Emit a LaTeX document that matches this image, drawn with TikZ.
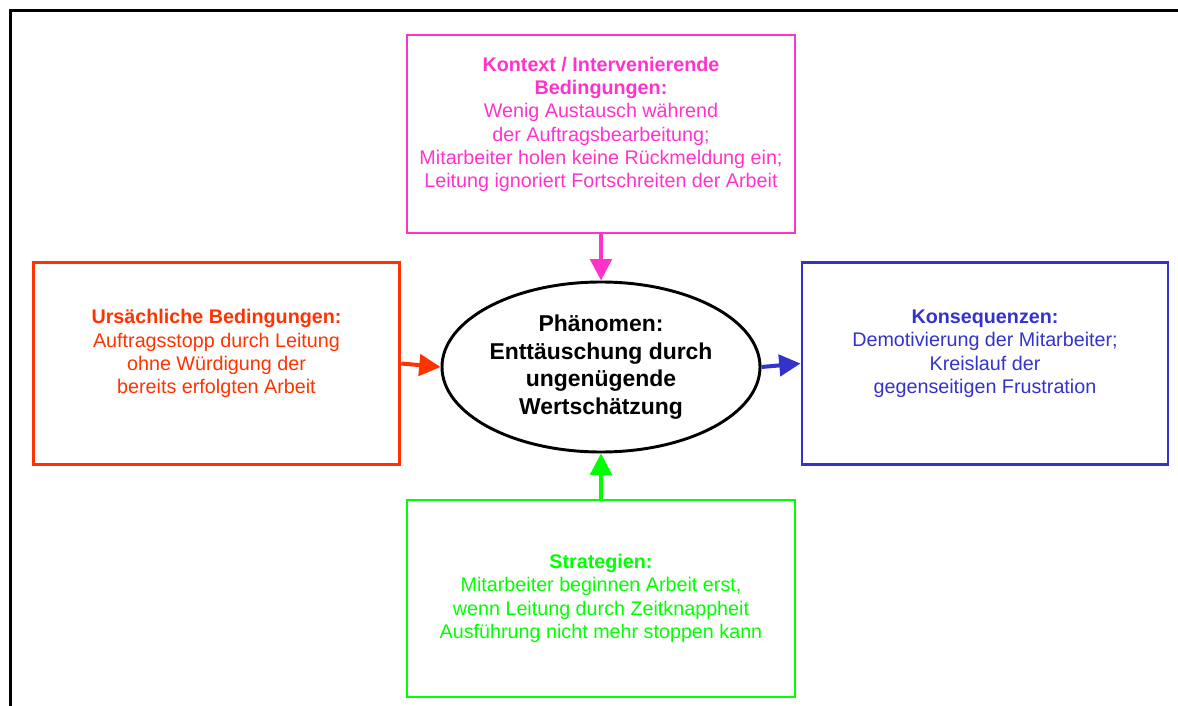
\documentclass[tikz,border=0pt]{standalone}
\usepackage{fontspec}
\setmainfont{Liberation Sans}
\usetikzlibrary{arrows.meta,shapes.geometric}
\definecolor{kontextpink}{HTML}{FF33CC}
\definecolor{ursacherot}{HTML}{FF3300}
\definecolor{folgeblau}{HTML}{3333CC}
\definecolor{strategiegruen}{HTML}{00FF00}
\begin{document}
\begin{tikzpicture}[x=0.75pt,y=-0.75pt,
	kasten/.style={draw, rectangle, line width=2.2pt, inner sep=0pt, align=center,
		font=\fontsize{14.8}{17.5}\selectfont},
	pfeil/.style={-{Triangle[length=16pt,width=16pt]}, line width=3pt}]

	\useasboundingbox (0,0) rectangle (1178,706);

	% draw frame
	\draw[line width=1.7pt] (10.5,706) -- (10.5,10.5) -- (1178,10.5);

	% draw boxes
	\node[kasten, draw=kontextpink, text=kontextpink, minimum width=291pt, minimum height=148.5pt] (kontext) at (601,134)
		{\textbf{Kontext / Intervenierende}\\ \textbf{Bedingungen:}\\ Wenig Austausch während\\ der Auftragsbearbeitung;\\ Mitarbeiter holen keine Rückmeldung ein;\\ Leitung ignoriert Fortschreiten der Arbeit\\ {}};
	\node[kasten, draw=ursacherot, text=ursacherot, minimum width=275pt, minimum height=152pt] (ursache) at (216.5,363.5)
		{\textbf{Ursächliche Bedingungen:}\\ Auftragsstopp durch Leitung\\ ohne Würdigung der\\ bereits erfolgten Arbeit\\ {}};
	\node[kasten, draw=folgeblau, text=folgeblau, minimum width=274.5pt, minimum height=152pt] (folgen) at (985,363.5)
		{\textbf{Konsequenzen:}\\ Demotivierung der Mitarbeiter;\\ Kreislauf der\\ gegenseitigen Frustration\\ {}};
	\node[kasten, draw=strategiegruen, text=strategiegruen, minimum width=291pt, minimum height=147.75pt] (strategie) at (601,598.5)
		{\textbf{Strategien:}\\ Mitarbeiter beginnen Arbeit erst,\\ wenn Leitung durch Zeitknappheit\\ Ausführung nicht mehr stoppen kann};

	% draw phenomenon
	\node[draw, ellipse, line width=2.2pt, inner sep=0pt, minimum width=238.5pt, minimum height=127.5pt, align=center,
		font=\bfseries\fontsize{17.2}{20.8}\selectfont] (phaenomen) at (601,367)
		{Phänomen:\\ Enttäuschung durch\\ ungenügende\\ Wertschätzung};

	% draw edges
	\foreach \von/\nach/\farbe in {kontext.south/phaenomen.north/kontextpink, ursache.east/phaenomen.west/ursacherot, phaenomen.east/folgen.west/folgeblau, strategie.north/phaenomen.south/strategiegruen}
	{
		\path (\von) edge[pfeil, draw=\farbe, fill=\farbe] node {} (\nach);
	}

\end{tikzpicture}
\end{document}
